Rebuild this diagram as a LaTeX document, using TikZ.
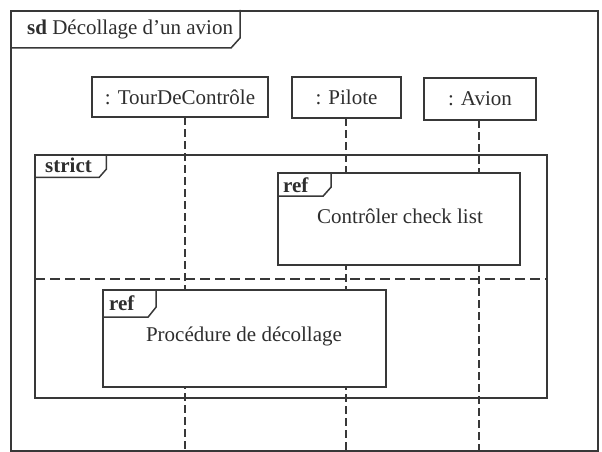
\documentclass[tikz,border=0pt]{standalone}
\usepackage{fontspec}
\setmainfont{Liberation Serif}
\begin{document}
\begin{tikzpicture}[x=1pt,y=-1pt,
  ink/.style={draw=black!78},
  every node/.style={font=\fontsize{21}{25}\selectfont, text=black!82},
  framebox/.style={ink, line width=1.7pt},
  headbox/.style={ink, line width=1.8pt, fill=white, inner sep=0pt, anchor=center},
  fragbox/.style={ink, line width=1.5pt, inner sep=0pt, anchor=center},
  refbox/.style={ink, line width=1.8pt, fill=white, inner sep=0pt, anchor=center},
  tabline/.style={ink, line width=1.5pt, line join=miter},
  lifeline/.style={ink, line width=1.3pt, dash pattern=on 8pt off 4pt},
  separator/.style={ink, line width=1.3pt, dash pattern=on 10pt off 5pt},
  kw/.style={font=\fontsize{21}{25}\selectfont\bfseries, anchor=base west, inner sep=0pt},
  txt/.style={anchor=base, inner sep=0pt}
]
\useasboundingbox (0,0) rectangle (602,452);

% outer sd frame
\node[framebox, minimum width=587pt, minimum height=440pt, inner sep=0pt, anchor=north west] (sd) at (10,10) {};
\draw[tabline] (sd.north west) ++(230,0) coordinate (sdTR) -- ++(0,28) -- ++(-9,10) -- ++(-221,0);
\node[kw] (sdlbl) at (27,35) {sd \mdseries Décollage d’un avion};

% lifeline heads
\node[headbox, minimum width=176pt, minimum height=40pt] (tc) at (180,97) {: TourDeContrôle};
\node[headbox, minimum width=109pt, minimum height=41pt] (pi) at (346.5,97.5) {: Pilote};
\node[headbox, minimum width=112pt, minimum height=42pt] (av) at (480,99) {: Avion};

% lifelines
\coordinate (tcTop) at (185,117);  \coordinate (tcEnd) at (185,450);
\coordinate (piTop) at (346,118);  \coordinate (piEnd) at (346,450);
\coordinate (avTop) at (479,120);  \coordinate (avEnd) at (479,450);
\draw[lifeline] (tcTop) -- (tcEnd);
\draw[lifeline] (piTop) -- (piEnd);
\draw[lifeline] (avTop) -- (avEnd);

% strict combined fragment
\node[fragbox, minimum width=512pt, minimum height=243pt] (strict) at (291,276.5) {};
\draw[tabline] (strict.north west) ++(72,0) -- ++(0,15) -- ++(-7,8) -- ++(-65,0);
\node[kw] (strictlbl) at (45,172) {strict};
\coordinate (sepL) at (35,279);
\coordinate (sepR) at (547,279);
\draw[separator] (sepL) -- (sepR);

% interaction uses
\node[refbox, minimum width=242pt, minimum height=92pt] (ref1) at (399,219) {};
\draw[tabline] (ref1.north west) ++(54,0) -- ++(0,15) -- ++(-8,9) -- ++(-46,0);
\node[kw] (ref1lbl) at (283,192) {ref};
\node[txt] (ref1txt) at (400,223) {Contrôler check list};

\node[refbox, minimum width=283pt, minimum height=97pt] (ref2) at (244.5,338.5) {};
\draw[tabline] (ref2.north west) ++(54,0) -- ++(0,18) -- ++(-8,10) -- ++(-46,0);
\node[kw] (ref2lbl) at (109,310) {ref};
\node[txt] (ref2txt) at (244,341) {Procédure de décollage};
\end{tikzpicture}
\end{document}
